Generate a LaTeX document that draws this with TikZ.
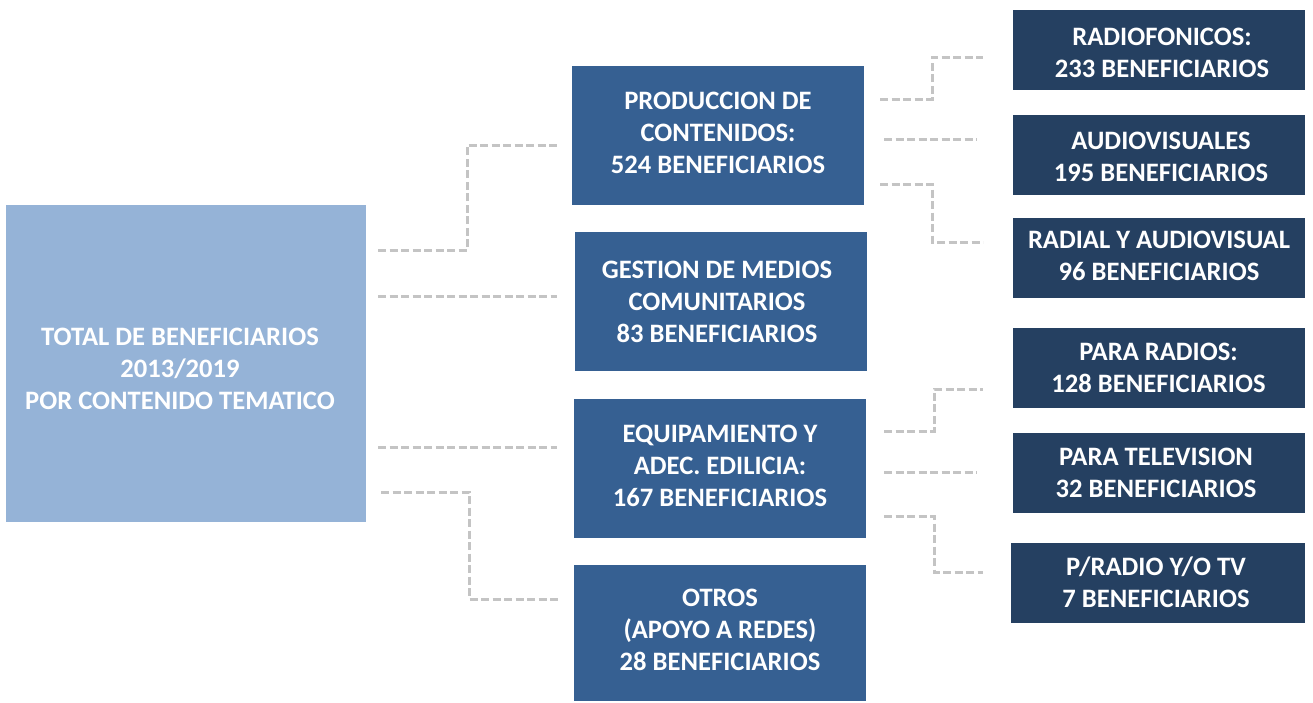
\documentclass[tikz,border=0pt]{standalone}
\usepackage{fontspec}
\setmainfont{Carlito}
\definecolor{lightbox}{HTML}{95B3D7}
\definecolor{midbox}{HTML}{366092}
\definecolor{darkbox}{HTML}{254061}
\definecolor{conn}{HTML}{C4C4C4}
\begin{document}
\begin{tikzpicture}[x=1pt,y=-1pt,
  box/.style={rectangle, inner sep=0pt, text=white, align=center,
    font=\fontsize{26.6}{32}\selectfont\bfseries},
  totbox/.style={box, fill=lightbox, minimum width=360pt, minimum height=317pt},
  midnode/.style={box, fill=midbox, minimum width=292pt, minimum height=139pt},
  rightnode/.style={box, fill=darkbox, minimum width=292pt, minimum height=80pt},
  link/.style={draw=conn, line width=3pt, dash pattern=on 8pt off 3.5pt}]
\useasboundingbox (0,0) rectangle (1313,702);
\node[totbox] (tot) at (186,363.5) {};
\node[box] (totlabel) at (180,369) {TOTAL DE BENEFICIARIOS\\2013/2019\\POR CONTENIDO TEMATICO};
\node[midnode] (prod) at (718,135.5) {};
\node[box] (prodlabel) at (718,132.5) {PRODUCCION DE\\CONTENIDOS:\\524 BENEFICIARIOS};
\node[midnode] (gest) at (721,301.5) {};
\node[box] (gestlabel) at (717,301.5) {GESTION DE MEDIOS\\COMUNITARIOS\\83 BENEFICIARIOS};
\node[midnode] (equip) at (720,468.5) {};
\node[box] (equiplabel) at (720,466) {EQUIPAMIENTO Y\\ADEC. EDILICIA:\\167 BENEFICIARIOS};
\node[midnode, minimum height=136pt] (otros) at (720,633) {};
\node[box] (otroslabel) at (720,630) {OTROS\\(APOYO A REDES)\\28 BENEFICIARIOS};
\node[rightnode] (radio) at (1159,50) {};
\node[box] (radiolabel) at (1162,52.5) {RADIOFONICOS:\\233 BENEFICIARIOS};
\node[rightnode] (audio) at (1159,154.5) {};
\node[box] (audiolabel) at (1161,156.5) {AUDIOVISUALES\\195 BENEFICIARIOS};
\node[rightnode] (radial) at (1159,257.5) {};
\node[box] (radiallabel) at (1159,255.5) {RADIAL Y AUDIOVISUAL\\96 BENEFICIARIOS};
\node[rightnode] (pradios) at (1158.5,368) {};
\node[box] (pradioslabel) at (1158.5,368) {PARA RADIOS:\\128 BENEFICIARIOS};
\node[rightnode] (ptv) at (1158.5,472.5) {};
\node[box] (ptvlabel) at (1156,473) {PARA TELEVISION\\32 BENEFICIARIOS};
\node[rightnode, minimum width=294pt] (prtv) at (1158,582.5) {};
\node[box] (prtvlabel) at (1156,582) {P/RADIO Y/O TV\\7 BENEFICIARIOS};
% free ends of connectors
\coordinate (l1a) at (378,250); \coordinate (l1b) at (557,145);
\coordinate (l2a) at (378,296); \coordinate (l2b) at (557,296);
\coordinate (l3a) at (378,447); \coordinate (l3b) at (557,447);
\coordinate (l4a) at (381,492); \coordinate (l4b) at (560,599);
\coordinate (r1a) at (880,99);  \coordinate (r1b) at (983,57);
\coordinate (r2a) at (884,139); \coordinate (r2b) at (977,139);
\coordinate (r3a) at (880,184); \coordinate (r3b) at (983,242);
\coordinate (r4a) at (884,431); \coordinate (r4b) at (983,389);
\coordinate (r5a) at (884,472); \coordinate (r5b) at (977,472);
\coordinate (r6a) at (884,516); \coordinate (r6b) at (983,572);
\draw[link] (l1a) -- (467,250) |- (l1b);
\draw[link] (l2a) -- (l2b);
\draw[link] (l3a) -- (l3b);
\draw[link] (l4a) -- (469,492) |- (l4b);
\draw[link] (r1a) -- (932,99) |- (r1b);
\draw[link] (r2a) -- (r2b);
\draw[link] (r3a) -- (932,184) |- (r3b);
\draw[link] (r4a) -- (934,431) |- (r4b);
\draw[link] (r5a) -- (r5b);
\draw[link] (r6a) -- (934,516) |- (r6b);
\end{tikzpicture}
\end{document}
